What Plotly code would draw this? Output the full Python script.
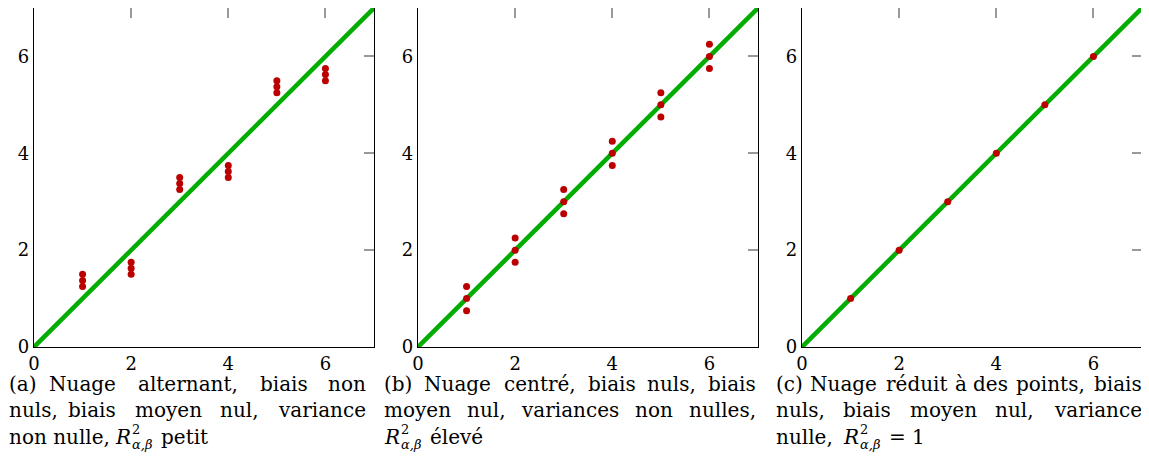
import plotly.graph_objects as go

# data
# (a) alternating cloud: three points per x, shifted above/below the diagonal
a_x = [1, 1, 1, 2, 2, 2, 3, 3, 3, 4, 4, 4, 5, 5, 5, 6, 6, 6]
a_y = [1.25, 1.375, 1.5, 1.5, 1.625, 1.75, 3.25, 3.375, 3.5,
       3.5, 3.625, 3.75, 5.25, 5.375, 5.5, 5.5, 5.625, 5.75]

# (b) centred cloud
b_x = [1, 1, 1, 2, 2, 2, 3, 3, 3, 4, 4, 4, 5, 5, 5, 6, 6, 6]
b_y = [0.75, 1.0, 1.25, 1.75, 2.0, 2.25, 2.75, 3.0, 3.25,
       3.75, 4.0, 4.25, 4.75, 5.0, 5.25, 5.75, 6.0, 6.25]

# (c) points on the diagonal
c_x = [1, 2, 3, 4, 5, 6]
c_y = [1, 2, 3, 4, 5, 6]

diag_x = [0, 7]
diag_y = [0, 7]

tick_vals = [0, 2, 4, 6]

# caption: justified lines, then last line = (prefix, suffix) around R^2_{a,b}
caption_lines = [
    ["(a) Nuage alternant, biais non", "nuls, biais moyen nul, variance"],
    ["(b) Nuage centré, biais nuls, biais", "moyen nul, variances non nulles,"],
    ["(c) Nuage réduit à des points, biais", "nuls, biais moyen nul, variance"],
]
caption_last = [("non nulle, ", " petit"), ("", " élevé"), ("nulle, ", " = 1")]

GREEN = "#00ad00"
RED = "#bb0000"
FONT = "DejaVu Serif"

# the page body has an 8px margin, so the figure is drawn 8px in from the corner
OFF = 8
W, H = 1149 - OFF, 476 - OFF

# rough DejaVu Serif advance widths (em)
EM = {" ": 0.318, ",": 0.318, "(": 0.39, ")": 0.39, "a": 0.596, "b": 0.64,
      "c": 0.56, "d": 0.64, "e": 0.592, "é": 0.592, "à": 0.596, "g": 0.64,
      "i": 0.32, "l": 0.32, "m": 0.948, "n": 0.644, "o": 0.602, "p": 0.64,
      "r": 0.478, "s": 0.513, "t": 0.402, "u": 0.644, "v": 0.565,
      "y": 0.565, "N": 0.872, "R": 0.77, "=": 0.838, "1": 0.636, "2": 0.636,
      "α": 0.66, "β": 0.64}


def text_w(s, size):
    return sum(EM.get(ch, 0.6) for ch in s) * size * 1.06


def fx(px):
    return min(1.0, max(0.0, (px - OFF) / W))


def fy(py):
    return min(1.0, max(0.0, 1 - (py - OFF) / H))


panels = [(a_x, a_y), (b_x, b_y), (c_x, c_y)]
left_px = [34, 418, 802]
plot_w = 340
y_dom = [fy(347), fy(8)]

fig = go.Figure()
layout = {}
for i, (px, py) in enumerate(panels):
    n = i + 1
    xa, ya = ("x" if n == 1 else f"x{n}"), ("y" if n == 1 else f"y{n}")
    dom = [fx(left_px[i]), fx(left_px[i] + plot_w)]

    fig.add_trace(go.Scatter(x=diag_x, y=diag_y, mode="lines",
                             line=dict(color=GREEN, width=4.5),
                             xaxis=xa, yaxis=ya, showlegend=False))
    fig.add_trace(go.Scatter(x=px, y=py, mode="markers",
                             marker=dict(color=RED, size=7),
                             xaxis=xa, yaxis=ya, showlegend=False))

    common = dict(range=[0, 7], tickvals=tick_vals, showgrid=False,
                  zeroline=False, showline=True, linecolor="black",
                  linewidth=1.3, mirror=True, ticks="", automargin=False,
                  tickfont=dict(family=FONT, size=18, color="black"))
    layout["xaxis" if n == 1 else f"xaxis{n}"] = dict(
        domain=dom, anchor=ya, **common)
    layout["yaxis" if n == 1 else f"yaxis{n}"] = dict(
        domain=y_dom, anchor=xa, **common)

    # gray inner ticks only on the top and right sides
    tn = n + 3
    ticks_common = dict(range=[0, 7], tickvals=tick_vals, showgrid=False,
                        zeroline=False, showline=False, showticklabels=False,
                        ticks="inside", ticklen=10, tickwidth=1.5,
                        tickcolor="#999999", automargin=False)
    layout[f"xaxis{tn}"] = dict(overlaying=xa, anchor=ya, side="top",
                                **ticks_common)
    layout[f"yaxis{tn}"] = dict(overlaying=ya, anchor=xa, side="right",
                                **ticks_common)
    fig.add_trace(go.Scatter(x=[0], y=[0], mode="markers", opacity=0,
                             xaxis=f"x{tn}", yaxis=ya,
                             showlegend=False, hoverinfo="skip"))
    fig.add_trace(go.Scatter(x=[0], y=[0], mode="markers", opacity=0,
                             xaxis=xa, yaxis=f"y{tn}",
                             showlegend=False, hoverinfo="skip"))

# captions below each panel, justified word by word (words placed by centre)
cap_left = [0, 383, 775]
cap_right = [367, 757, 1143]
line_y = [384, 410, 437]
CAP = 20
annotations = []


def add_text(x_px, y_px, txt, size=CAP, anchor="left"):
    annotations.append(dict(
        x=fx(x_px), y=fy(y_px), xref="paper", yref="paper",
        xanchor=anchor, yanchor="middle", text=txt, showarrow=False,
        borderpad=0, font=dict(family=FONT, size=size, color="black")))


for i, lines in enumerate(caption_lines):
    for j, line in enumerate(lines):
        words = line.split(" ")
        widths = [text_w(wd, CAP) for wd in words]
        gap = (cap_right[i] - cap_left[i] - sum(widths)) / (len(words) - 1)
        x = cap_left[i]
        for k, wd in enumerate(words):
            if k == 0:
                add_text(cap_left[i], line_y[j], wd, anchor="left")
            elif k == len(words) - 1:
                add_text(cap_right[i], line_y[j], wd, anchor="right")
            else:
                add_text(x + widths[k] / 2, line_y[j], wd, anchor="center")
            x += widths[k] + gap
    # last line with stacked super/subscript
    pre, post = caption_last[i]
    yl = line_y[2]
    x = cap_left[i]
    if pre:
        add_text(x, yl, pre.strip())
        x += text_w(pre, CAP)
    add_text(x, yl, "<i>R</i>")
    x += text_w("R", CAP) + 1
    add_text(x, yl - 8, "2", size=13)
    add_text(x, yl + 7, "<i>α,β</i>", size=13)
    x += text_w("α,β", 13)
    add_text(x + text_w(" ", CAP), yl, post.strip())

fig.update_layout(width=W, height=H, margin=dict(l=0, r=0, t=0, b=0),
                  paper_bgcolor="white", plot_bgcolor="white",
                  annotations=annotations, **layout)

fig.write_html("out.html")
